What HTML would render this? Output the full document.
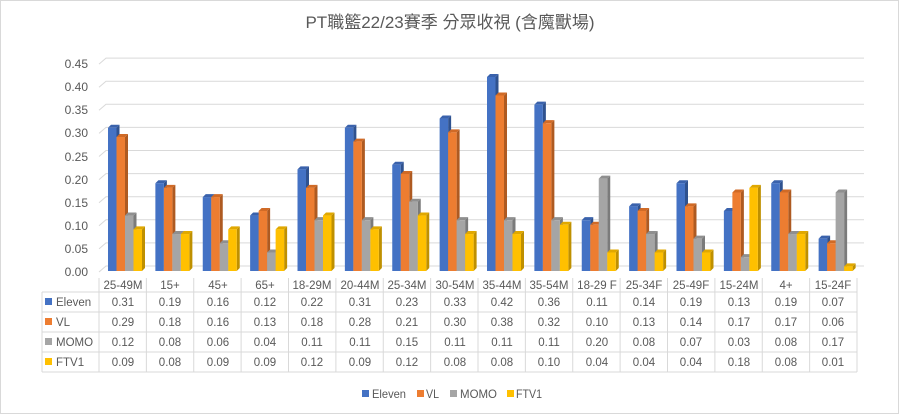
<!DOCTYPE html>
<html><head><meta charset="utf-8">
<style>
html,body{margin:0;padding:0;background:#fff}
svg{display:block}
text{font-family:"Liberation Sans","Noto Sans CJK TC",sans-serif;fill:#595959}
</style></head><body>
<svg id="s" width="900" height="415" viewBox="0 0 900 415" xmlns="http://www.w3.org/2000/svg">
<rect x="0.5" y="0.5" width="898" height="413" fill="#fff" stroke="#d9d9d9"/>
<text x="450" y="28" text-anchor="middle" font-size="17">PT職籃22/23賽季 分眾收視 (含魔獸場)</text>
<g id="grid" stroke="#d9d9d9" fill="none" stroke-width="1"></g>
<g font-size="12" text-anchor="end">
<text x="88" y="276">0.00</text><text x="88" y="253">0.05</text><text x="88" y="230">0.10</text>
<text x="88" y="207">0.15</text><text x="88" y="184">0.20</text><text x="88" y="161">0.25</text>
<text x="88" y="137">0.30</text><text x="88" y="114">0.35</text><text x="88" y="91">0.40</text>
<text x="88" y="68">0.45</text>
</g>
<g id="bars"></g>
<g id="tbl" stroke="#d9d9d9" stroke-width="1" fill="none"></g>
<g font-size="11.5" text-anchor="middle">
<g transform="translate(0,289)">
<text x="123" y="0">25-49M</text><text x="170" y="0">15+</text><text x="218" y="0">45+</text><text x="265" y="0">65+</text><text x="312" y="0">18-29M</text><text x="360" y="0">20-44M</text><text x="407" y="0">25-34M</text><text x="455" y="0">30-54M</text><text x="502" y="0">35-44M</text><text x="549" y="0">35-54M</text><text x="597" y="0">18-29 F</text><text x="644" y="0">25-34F</text><text x="691" y="0">25-49F</text><text x="739" y="0">15-24M</text><text x="786" y="0">4+</text><text x="833" y="0">15-24F</text>
</g>
<g transform="translate(0,306)">
<text x="123" y="0">0.31</text><text x="170" y="0">0.19</text><text x="218" y="0">0.16</text><text x="265" y="0">0.12</text><text x="312" y="0">0.22</text><text x="360" y="0">0.31</text><text x="407" y="0">0.23</text><text x="455" y="0">0.33</text><text x="502" y="0">0.42</text><text x="549" y="0">0.36</text><text x="597" y="0">0.11</text><text x="644" y="0">0.14</text><text x="691" y="0">0.19</text><text x="739" y="0">0.13</text><text x="786" y="0">0.19</text><text x="833" y="0">0.07</text>
</g>
<g transform="translate(0,326)">
<text x="123" y="0">0.29</text><text x="170" y="0">0.18</text><text x="218" y="0">0.16</text><text x="265" y="0">0.13</text><text x="312" y="0">0.18</text><text x="360" y="0">0.28</text><text x="407" y="0">0.21</text><text x="455" y="0">0.30</text><text x="502" y="0">0.38</text><text x="549" y="0">0.32</text><text x="597" y="0">0.10</text><text x="644" y="0">0.13</text><text x="691" y="0">0.14</text><text x="739" y="0">0.17</text><text x="786" y="0">0.17</text><text x="833" y="0">0.06</text>
</g>
<g transform="translate(0,346)">
<text x="123" y="0">0.12</text><text x="170" y="0">0.08</text><text x="218" y="0">0.06</text><text x="265" y="0">0.04</text><text x="312" y="0">0.11</text><text x="360" y="0">0.11</text><text x="407" y="0">0.15</text><text x="455" y="0">0.11</text><text x="502" y="0">0.11</text><text x="549" y="0">0.11</text><text x="597" y="0">0.20</text><text x="644" y="0">0.08</text><text x="691" y="0">0.07</text><text x="739" y="0">0.03</text><text x="786" y="0">0.08</text><text x="833" y="0">0.17</text>
</g>
<g transform="translate(0,366)">
<text x="123" y="0">0.09</text><text x="170" y="0">0.08</text><text x="218" y="0">0.09</text><text x="265" y="0">0.09</text><text x="312" y="0">0.12</text><text x="360" y="0">0.09</text><text x="407" y="0">0.12</text><text x="455" y="0">0.08</text><text x="502" y="0">0.08</text><text x="549" y="0">0.10</text><text x="597" y="0">0.04</text><text x="644" y="0">0.04</text><text x="691" y="0">0.04</text><text x="739" y="0">0.18</text><text x="786" y="0">0.08</text><text x="833" y="0">0.01</text>
</g>
</g>
<g font-size="11.5">
<rect x="45" y="298" width="7" height="7" fill="#4472C4"/><text x="56" y="306">Eleven</text>
<rect x="45" y="318" width="7" height="7" fill="#ED7D31"/><text x="56" y="326">VL</text>
<rect x="45" y="338" width="7" height="7" fill="#A5A5A5"/><text x="56" y="346">MOMO</text>
<rect x="45" y="358" width="7" height="7" fill="#FFC000"/><text x="56" y="366">FTV1</text>
</g>
<g font-size="12">
<rect x="362" y="390" width="7" height="7" fill="#4472C4"/><text x="372" y="398" textLength="34" lengthAdjust="spacingAndGlyphs">Eleven</text>
<rect x="417" y="390" width="7" height="7" fill="#ED7D31"/><text x="426" y="398" textLength="13" lengthAdjust="spacingAndGlyphs">VL</text>
<rect x="450" y="390" width="7" height="7" fill="#A5A5A5"/><text x="460" y="398" textLength="37" lengthAdjust="spacingAndGlyphs">MOMO</text>
<rect x="507" y="390" width="7" height="7" fill="#FFC000"/><text x="516" y="398" textLength="26" lengthAdjust="spacingAndGlyphs">FTV1</text>
</g>
</svg>
<script>
(function(){
var NS="http://www.w3.org/2000/svg";
function el(p,t,a){var e=document.createElementNS(NS,t);for(var k in a)e.setAttribute(k,a[k]);p.appendChild(e);return e;}
var g=document.getElementById('grid');
for(var k=0;k<10;k++){var y=266-k*23.1;
el(g,'polyline',{points:"99,"+(y+6)+" 106,"+y+" 864,"+y});}
var d=[[.31,.19,.16,.12,.22,.31,.23,.33,.42,.36,.11,.14,.19,.13,.19,.07],
[.29,.18,.16,.13,.18,.28,.21,.30,.38,.32,.10,.13,.14,.17,.17,.06],
[.12,.08,.06,.04,.11,.11,.15,.11,.11,.11,.20,.08,.07,.03,.08,.17],
[.09,.08,.09,.09,.12,.09,.12,.08,.08,.10,.04,.04,.04,.18,.08,.01]];
var cf=["#4472C4","#ED7D31","#A5A5A5","#FFC000"],cs=["#2F528F","#AE5A21","#7B7B7B","#BF9000"],ct=["#3A62AC","#D06A26","#8F8F8F","#E0A800"];
var b=document.getElementById('bars'),base=271,w=8.5,dp=3;
for(var i=0;i<16;i++){var x0=99+i*47.375;
for(var s=0;s<4;s++){var h=d[s][i]*462,x=x0+9+s*8.5,y=base-h;
el(b,'polygon',{points:(x+w)+","+y+" "+(x+w+dp)+","+(y-dp)+" "+(x+w+dp)+","+(base-dp)+" "+(x+w)+","+base,fill:cs[s]});
el(b,'polygon',{points:x+","+y+" "+(x+dp)+","+(y-dp)+" "+(x+w+dp)+","+(y-dp)+" "+(x+w)+","+y,fill:ct[s]});
el(b,'rect',{x:x,y:y,width:w,height:h,fill:cf[s]});}}
var t=document.getElementById('tbl');
for(var i=0;i<=16;i++){var x=99+i*47.375;el(t,'line',{x1:x,y1:278,x2:x,y2:372});}
el(t,'line',{x1:42,y1:292,x2:42,y2:372});
[292,312,332,352,372].forEach(function(y){el(t,'line',{x1:42,y1:y,x2:857,y2:y});});
})();
</script>
</body></html>
